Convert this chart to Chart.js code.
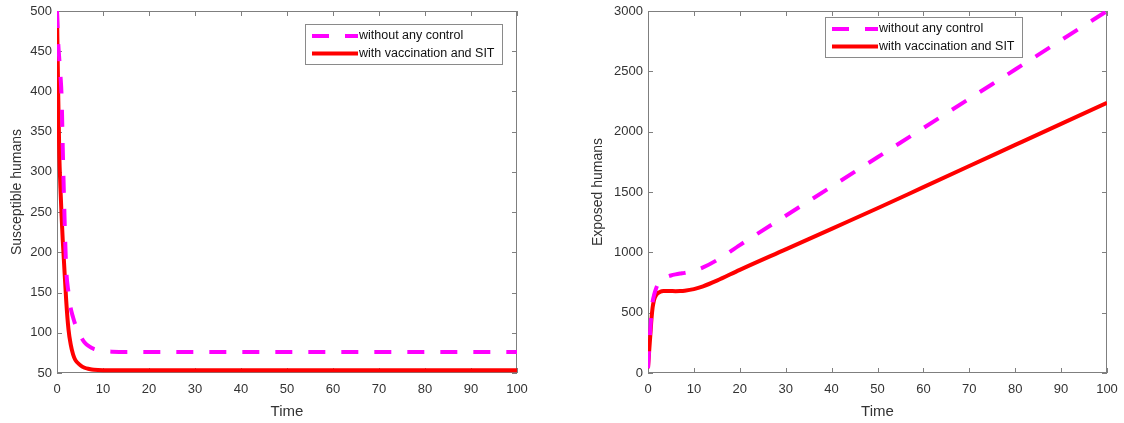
<!DOCTYPE html>
<html>
<head>
<meta charset="utf-8">
<script src="https://cdn.jsdelivr.net/npm/chart.js@4.4.1/dist/chart.umd.min.js"></script>
<style>
  html, body { margin: 0; padding: 0; background: #fff; }
  #wrap { position: relative; width: 1124px; height: 423px; }
  canvas { position: absolute; top: 0; }
  #susChart { left: 0; }
  #expChart { left: 562px; }
</style>
</head>
<body>
<div id="wrap">
  <canvas id="susChart" width="530" height="423"></canvas>
  <canvas id="expChart" width="562" height="423"></canvas>
</div>
<script>
// time grid shared by both panels
var time = [0, 0.25, 0.5, 0.75, 1, 1.25, 1.5, 2, 2.5, 3, 3.5, 4, 5, 6, 7, 8, 10, 12, 15, 20, 30, 40, 50, 60, 70, 80, 90, 100];

// susceptible humans
var susNoControl = [500, 462, 440, 420, 393, 330, 272, 180, 150, 130, 119, 110, 97, 88, 83, 80, 77.5, 76.5, 76, 76, 76, 76, 76, 76, 76, 76, 76, 76];
var susControl = [500, 400, 322, 280, 245, 215, 190, 140, 104, 85, 73, 66, 60, 56.5, 55, 54, 53.5, 53.5, 53.5, 53.5, 53.5, 53.5, 53.5, 53.5, 53.5, 53.5, 53.5, 53.5];

// exposed humans
var expNoControl = [40, 200, 360, 500, 590, 635, 670, 725, 755, 772, 785, 795, 808, 817, 824, 830, 848, 875, 935, 1060, 1303, 1545, 1788, 2030, 2273, 2515, 2758, 3000];
var expControl = [40, 180, 310, 445, 540, 595, 625, 657, 670, 677, 679, 680, 679, 678, 679, 682, 695, 718, 765, 855, 1025, 1195, 1365, 1540, 1715, 1890, 2065, 2240];

var labelNoControl = 'without any control';
var labelControl = 'with vaccination and SIT';

Chart.defaults.font.family = '"Liberation Sans", Arial, sans-serif';
Chart.defaults.color = '#333';

function pts(ys) {
    return time.map(function (t, i) { return { x: t, y: ys[i] }; });
}

// plain numbers, no thousands separator
function plain(v) {
    return String(v);
}

// axes box with inward ticks, MATLAB style
var frame = {
    id: 'frame',
    beforeDatasetsDraw: function (chart) {
        var ctx = chart.ctx, a = chart.chartArea, sx = chart.scales.x, sy = chart.scales.y;
        ctx.save();
        ctx.strokeStyle = '#7f7f7f';
        ctx.lineWidth = 1;
        ctx.beginPath();
        sx.ticks.forEach(function (t) {
            var px = Math.round(sx.getPixelForValue(t.value)) + 0.5;
            ctx.moveTo(px, a.bottom); ctx.lineTo(px, a.bottom - 5);
            ctx.moveTo(px, a.top); ctx.lineTo(px, a.top + 5);
        });
        sy.ticks.forEach(function (t) {
            var py = Math.round(sy.getPixelForValue(t.value)) + 0.5;
            ctx.moveTo(a.left, py); ctx.lineTo(a.left + 5, py);
            ctx.moveTo(a.right, py); ctx.lineTo(a.right - 5, py);
        });
        ctx.stroke();
        ctx.strokeRect(Math.round(a.left) + 0.5, Math.round(a.top) + 0.5, Math.round(a.width) - 1, Math.round(a.height) - 1);
        ctx.restore();
    }
};

// legend box placed inside the axes
var boxLegend = {
    id: 'boxLegend',
    afterDraw: function (chart, args, opts) {
        var ctx = chart.ctx;
        ctx.save();
        ctx.fillStyle = '#fff';
        ctx.fillRect(opts.x, opts.y, opts.w, opts.h);
        ctx.strokeStyle = '#8a8a8a';
        ctx.lineWidth = 1;
        ctx.strokeRect(opts.x + 0.5, opts.y + 0.5, opts.w, opts.h);
        chart.data.datasets.forEach(function (ds, i) {
            var cy = opts.y + 12 + i * 17.5;
            ctx.beginPath();
            ctx.setLineDash(ds.borderDash || []);
            ctx.strokeStyle = ds.borderColor;
            ctx.lineWidth = ds.borderWidth;
            ctx.moveTo(opts.x + 7, cy);
            ctx.lineTo(opts.x + 53, cy);
            ctx.stroke();
            ctx.setLineDash([]);
            ctx.fillStyle = '#111';
            ctx.font = '12.5px "Liberation Sans", Arial, sans-serif';
            ctx.textBaseline = 'middle';
            ctx.textAlign = 'left';
            ctx.fillText(ds.label, opts.x + 54, cy);
        });
        ctx.restore();
    }
};

function makeChart(id, noControl, control, yTitle, yMin, yMax, yStep, yWidth, titlePad, rightPad, legendPos) {
    return new Chart(document.getElementById(id), {
        type: 'line',
        data: {
            datasets: [{
                label: labelNoControl,
                data: pts(noControl),
                borderColor: '#ff00ff',
                borderWidth: 4,
                borderDash: [17, 16],
                pointRadius: 0,
                cubicInterpolationMode: 'monotone'
            }, {
                label: labelControl,
                data: pts(control),
                borderColor: '#ff0000',
                borderWidth: 4,
                pointRadius: 0,
                cubicInterpolationMode: 'monotone'
            }]
        },
        options: {
            responsive: false,
            animation: false,
            events: [],
            layout: { padding: { left: 0, top: 11, right: rightPad, bottom: 0 } },
            plugins: {
                legend: { display: false },
                tooltip: { enabled: false },
                boxLegend: legendPos
            },
            scales: {
                x: {
                    type: 'linear',
                    min: 0,
                    max: 100,
                    grid: { display: false, drawTicks: false },
                    border: { display: false },
                    ticks: { stepSize: 10, padding: 9, font: { size: 13 }, maxRotation: 0, callback: plain },
                    title: { display: true, text: 'Time', font: { size: 15 }, padding: { top: 0, bottom: 2 } },
                    afterFit: function (s) {
                        s.height = 50;
                        s.paddingLeft = 0;
                        s.paddingRight = 0;
                    }
                },
                y: {
                    min: yMin,
                    max: yMax,
                    grid: { display: false, drawTicks: false },
                    border: { display: false },
                    ticks: { stepSize: yStep, padding: 5, font: { size: 13 }, callback: plain },
                    title: { display: true, text: yTitle, font: { size: 14 }, padding: { top: titlePad, bottom: 0 } },
                    afterFit: function (s) {
                        s.width = yWidth;
                        s.paddingTop = 0;
                        s.paddingBottom = 0;
                    }
                }
            }
        },
        plugins: [frame, boxLegend]
    });
}

makeChart('susChart', susNoControl, susControl, 'Susceptible humans', 50, 500, 50, 57, 9, 13,
    { x: 305, y: 24, w: 197, h: 40 });
makeChart('expChart', expNoControl, expControl, 'Exposed humans', 0, 3000, 500, 86, 28, 17,
    { x: 263, y: 17, w: 197, h: 40 });
</script>
</body>
</html>
